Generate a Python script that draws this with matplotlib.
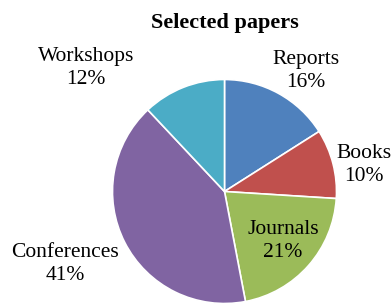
import matplotlib.pyplot as plt

# data
labels = ["Reports", "Books", "Journals", "Conferences", "Workshops"]
shares = [16, 10, 21, 41, 12]
colors = ["#4F81BD", "#C0504D", "#9BBB59", "#8064A2", "#4BACC6"]

W, H = 391, 305
# label block centres in pixel coords (top-left origin)
label_pos = {
    "Reports": (306, 71),
    "Books": (364, 165),
    "Journals": (283, 241),
    "Conferences": (65, 264),
    "Workshops": (86, 68),
}

fig = plt.figure(figsize=(W / 100, H / 100), dpi=100)
ax = fig.add_axes([0, 0, 1, 1])

ax.pie(
    shares,
    colors=colors,
    startangle=90,
    counterclock=False,
    center=(224.5, H - 191.5),
    radius=112,
    wedgeprops={"edgecolor": "white", "linewidth": 1.2},
)
ax.set_xlim(0, W)
ax.set_ylim(0, H)
ax.set_aspect("equal")
ax.axis("off")

for name, val in zip(labels, shares):
    x, y = label_pos[name]
    ax.text(
        x, H - y, f"{name}\n{val}%",
        ha="center", va="center", multialignment="center",
        family="Liberation Serif", fontsize=15.5, color="black", linespacing=1.3,
    )

ax.text(
    224.5, H - 23, "Selected papers",
    ha="center", va="center",
    family="Liberation Serif", fontsize=16, fontweight="bold",
)

fig.savefig("out.png", dpi=100)
